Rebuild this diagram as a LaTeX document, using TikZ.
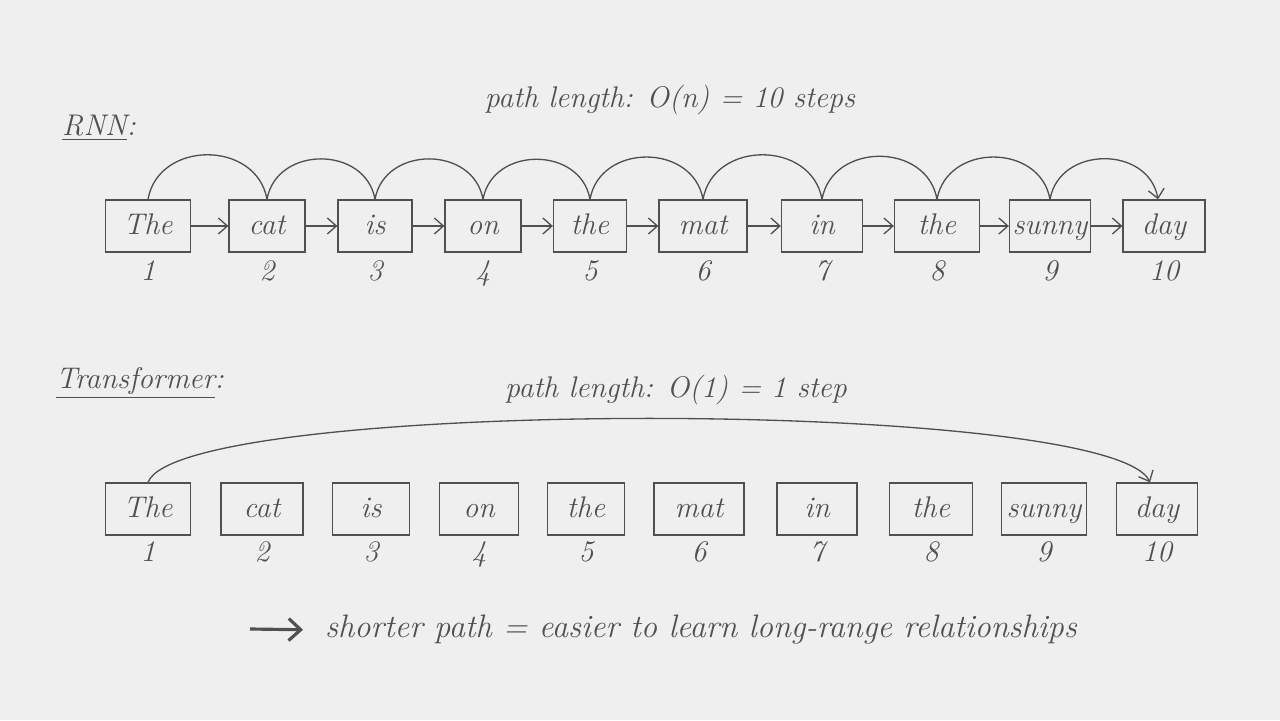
\documentclass[tikz,border=0pt]{standalone}
\usepackage{tikz}
\usetikzlibrary{arrows.meta, positioning}

\definecolor{fond}{HTML}{EFEFEF}
\definecolor{encre}{HTML}{505050}

\tikzset{
  boite/.style={draw=encre, line width=0.75pt, minimum height=1.04cm, inner sep=1pt,
    text height=0.95em, text depth=0pt},
  num/.style={text height=0.7em, text depth=0pt},
  trait/.style={draw=encre, line width=0.75pt},
  >={Straight Barb[length=1.8mm, width=3.2mm]},
}

\begin{document}
\begin{tikzpicture}[x=0.02cm, y=0.02cm, text=encre,
    font=\fontsize{17}{20}\selectfont\itshape]
  \fill[fond] (0,0) rectangle (1280,720);
  \useasboundingbox (0,0) rectangle (1280,720);

  % Réseau récurrent (RNN)
  \node[anchor=base west] (titreRNN) at (56,584) {\underline{RNN}:};
  \node (cheminRNN) at (670,620) {path length: O(n) = 10 steps};
  \foreach \x/\w/\mot [count=\i] in {148/1.70/The, 267/1.52/cat, 375/1.48/is,
      483/1.52/on, 590/1.46/the, 703/1.76/mat, 822/1.62/in, 937/1.70/the,
      1050/1.62/sunny, 1164/1.64/day} {
    \node[boite, minimum width=\w cm] (r\i) at (\x,494) {\mot};
    \node[num] (rn\i) at (\x,446) {\i};
  }
  \foreach \i [evaluate=\i as \j using int(\i+1)] in {1,...,9}
    \draw[trait, ->] (r\i) -- (r\j);
  \foreach \i [evaluate=\i as \j using int(\i+1)] in {1,...,8}
    \draw[trait] (r\i.north) to[out=80, in=100, looseness=1.3] (r\j.north);
  \draw[trait, ->] (r9.north) to[out=80, in=100, looseness=1.3] ([xshift=-0.12cm]r10.north);

  % Transformer
  \node[anchor=base west] (titreTr) at (50,331) {\underline{Transformer}:};
  \node (cheminTr) at (676,330) {path length: O(1) = 1 step};
  \foreach \x/\w/\mot [count=\i] in {148/1.70/The, 262/1.64/cat, 371/1.54/is,
      479/1.58/on, 586/1.54/the, 699/1.80/mat, 817/1.60/in, 931/1.66/the,
      1044/1.70/sunny, 1157/1.62/day} {
    \node[boite, minimum width=\w cm] (t\i) at (\x,211) {\mot};
    \node[num] (tn\i) at (\x,165) {\i};
  }
  \draw[trait, ->] (t1.north) .. controls +(32,85) and +(-40,85) .. ([xshift=-0.14cm]t10.north);

  % Conclusion
  \node[anchor=west, font=\fontsize{18.5}{22}\selectfont\itshape] (conclusion) at (319,90)
    {shorter path = easier to learn long-range relationships};
  \coordinate (depart) at (250,91);
  \draw[encre, line width=1.8pt, -{Straight Barb[length=2.4mm, width=4.4mm]}, shorten >=0.32cm]
    (depart) -- (conclusion.west);
\end{tikzpicture}
\end{document}
